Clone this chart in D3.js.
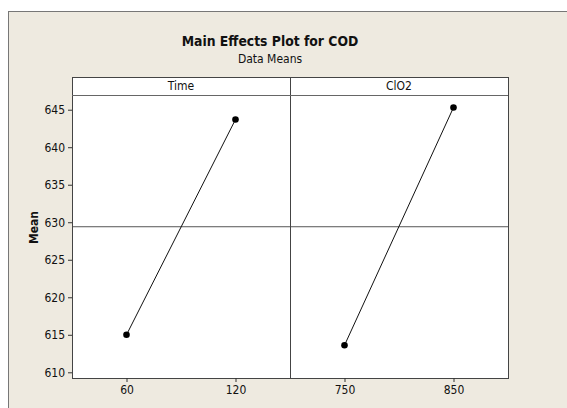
<!DOCTYPE html>
<html><head><meta charset="utf-8">
<script src="https://cdn.jsdelivr.net/npm/d3@7"></script>
<style>
html,body{margin:0;padding:0;background:#fff;}
svg{display:block;font-family:"DejaVu Sans Condensed","Liberation Sans",sans-serif;}
</style></head><body>
<svg id="c" width="567" height="408"></svg>
<script>
const title = "Main Effects Plot for COD";
const subtitle = "Data Means";
const factors = ["Time", "ClO2"];
const timeLevels = ["60", "120"];
const timeMeans = [615.0, 643.7];
const clo2Levels = ["750", "850"];
const clo2Means = [613.6, 645.3];
const yTicks = [610, 615, 620, 625, 630, 635, 640, 645];
const yLabel = "Mean";

(function(){
const panels = [
  {name: factors[0], levels: timeLevels, means: timeMeans},
  {name: factors[1], levels: clo2Levels, means: clo2Means}
];
const grandMean = (d3.mean(timeMeans) + d3.mean(clo2Means)) / 2;

const svg = d3.select("#c");
svg.append("rect").attr("x",0).attr("y",0).attr("width",567).attr("height",408).attr("fill","#fff");
svg.append("rect").attr("x",8.5).attr("y",11.5).attr("width",600).attr("height",420)
  .attr("fill","#EEEAE0").attr("stroke","#777").attr("stroke-width",1);

const L = 72, R = 508, stripTop = 77, plotTop = 95, plotBottom = 378;
const y = d3.scaleLinear().domain([609.24, 646.96]).range([plotBottom, plotTop]);
const pw = (R - L) / panels.length;
const FF = "'DejaVu Sans Condensed','Liberation Sans',sans-serif";

const yAxis = svg.append("g").attr("transform", `translate(${L},0)`)
  .call(d3.axisLeft(y).tickValues(yTicks).tickSize(4).tickPadding(3).tickFormat(d3.format("d")));
yAxis.select(".domain").remove();
yAxis.selectAll("line").attr("stroke","#333");
yAxis.selectAll("text").attr("font-size",12).attr("fill","#111").attr("font-family",FF);

svg.append("text").attr("transform",`translate(38,${(stripTop+plotBottom)/2}) rotate(-90)`)
  .attr("text-anchor","middle").attr("font-size",12).attr("font-weight","bold").attr("fill","#111").text(yLabel);

panels.forEach((p, i) => {
  const x0 = L + i*pw, x1 = x0 + pw;
  const x = d3.scalePoint().domain(p.levels).range([x0, x1]).padding(0.5);
  const g = svg.append("g");
  g.append("rect").attr("x",x0).attr("y",stripTop).attr("width",pw).attr("height",plotBottom-stripTop).attr("fill","#fff");
  g.append("text").attr("x",(x0+x1)/2).attr("y",stripTop+13).attr("text-anchor","middle")
    .attr("font-size",12).attr("fill","#111").text(p.name);
  g.append("line").attr("x1",x0).attr("x2",x1).attr("y1",y(grandMean)).attr("y2",y(grandMean))
    .attr("stroke","#555").attr("stroke-width",1);
  const line = d3.line().x((d,j)=>x(p.levels[j])).y(d=>y(d));
  g.append("path").attr("d", line(p.means)).attr("fill","none").attr("stroke","#111").attr("stroke-width",1);
  g.selectAll("circle").data(p.means).join("circle")
    .attr("cx",(d,j)=>x(p.levels[j])).attr("cy",d=>y(d)).attr("r",3.3).attr("fill","#000");
  const xa = svg.append("g").attr("transform",`translate(0,${plotBottom})`)
    .call(d3.axisBottom(x).tickSize(4).tickPadding(3));
  xa.select(".domain").remove();
  xa.selectAll("line").attr("stroke","#333");
  xa.selectAll("text").attr("font-size",12).attr("fill","#111").attr("font-family",FF);
  g.append("rect").attr("x",x0+0.5).attr("y",stripTop+0.5).attr("width",pw).attr("height",plotBottom-stripTop)
    .attr("fill","none").attr("stroke","#444");
  g.append("line").attr("x1",x0).attr("x2",x1).attr("y1",plotTop+0.5).attr("y2",plotTop+0.5).attr("stroke","#666");
});

svg.append("text").attr("x",270).attr("y",46).attr("text-anchor","middle")
  .attr("font-size",13.8).attr("font-weight","bold").attr("fill","#111").text(title);
svg.append("text").attr("x",270).attr("y",63).attr("text-anchor","middle")
  .attr("font-size",12).attr("fill","#111").text(subtitle);
})();
</script></body></html>
